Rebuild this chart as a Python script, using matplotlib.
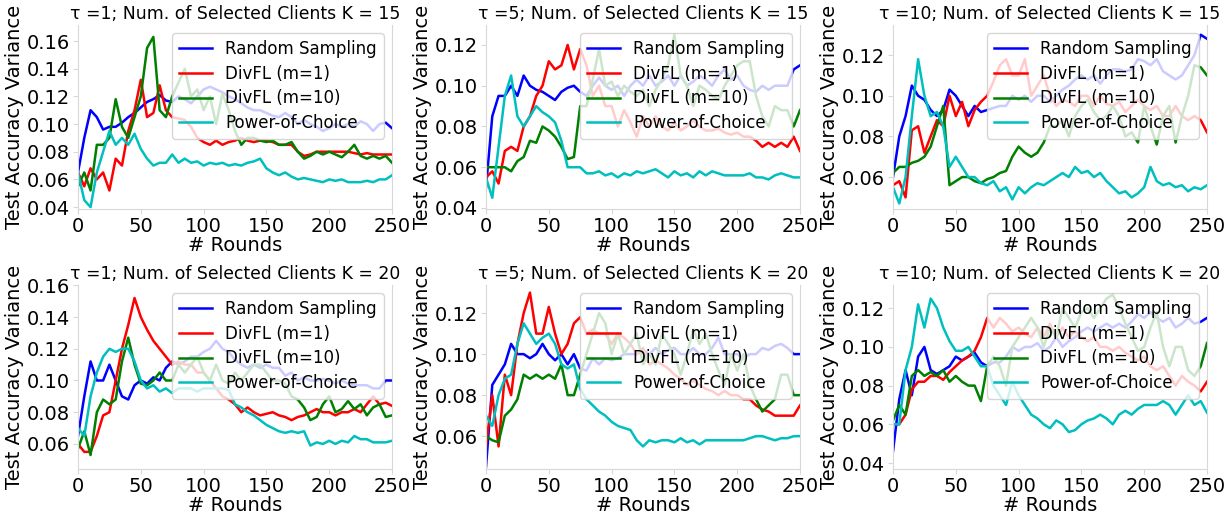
import matplotlib
matplotlib.use("Agg")
import matplotlib.pyplot as plt

ROUNDS = list(range(0, 251, 5))

LABELS = ["Random Sampling", "DivFL (m=1)", "DivFL (m=10)", "Power-of-Choice"]
COLORS = ["b", "r", "g", "c"]

TITLES = [
    "τ =1; Num. of Selected Clients K = 15",
    "τ =5; Num. of Selected Clients K = 15",
    "τ =10; Num. of Selected Clients K = 15",
    "τ =1; Num. of Selected Clients K = 20",
    "τ =5; Num. of Selected Clients K = 20",
    "τ =10; Num. of Selected Clients K = 20",
]

# ---------------- tau = 1, K = 15 ----------------
rs_t1_k15 = [0.065, 0.090, 0.110, 0.105, 0.096, 0.098, 0.098, 0.101, 0.105, 0.108,
             0.112, 0.116, 0.118, 0.121, 0.117, 0.116, 0.120, 0.118, 0.115, 0.120,
             0.125, 0.127, 0.125, 0.123, 0.120, 0.118, 0.115, 0.112, 0.110, 0.110,
             0.108, 0.106, 0.105, 0.108, 0.105, 0.100, 0.103, 0.100, 0.098, 0.095,
             0.097, 0.100, 0.098, 0.100, 0.098, 0.102, 0.100, 0.095, 0.100, 0.101,
             0.097]
d1_t1_k15 = [0.065, 0.055, 0.068, 0.060, 0.065, 0.052, 0.075, 0.070, 0.095, 0.110,
             0.132, 0.105, 0.108, 0.128, 0.110, 0.105, 0.104, 0.103, 0.098, 0.090,
             0.087, 0.085, 0.088, 0.085, 0.087, 0.088, 0.090, 0.088, 0.087, 0.088,
             0.088, 0.087, 0.085, 0.085, 0.085, 0.080, 0.077, 0.078, 0.080, 0.080,
             0.080, 0.080, 0.080, 0.080, 0.079, 0.078, 0.079, 0.078, 0.078, 0.078,
             0.078]
d10_t1_k15 = [0.055, 0.065, 0.052, 0.085, 0.085, 0.090, 0.118, 0.098, 0.090, 0.105,
              0.120, 0.155, 0.163, 0.110, 0.105, 0.120, 0.130, 0.140, 0.120, 0.125,
              0.110, 0.120, 0.100, 0.122, 0.110, 0.095, 0.085, 0.090, 0.090, 0.088,
              0.087, 0.088, 0.085, 0.085, 0.087, 0.080, 0.075, 0.077, 0.080, 0.078,
              0.080, 0.078, 0.076, 0.080, 0.085, 0.077, 0.075, 0.077, 0.075, 0.077,
              0.072]
poc_t1_k15 = [0.065, 0.045, 0.040, 0.065, 0.080, 0.095, 0.085, 0.090, 0.085, 0.093,
              0.082, 0.075, 0.070, 0.072, 0.072, 0.078, 0.072, 0.075, 0.072, 0.073,
              0.070, 0.072, 0.071, 0.072, 0.070, 0.071, 0.070, 0.072, 0.073, 0.075,
              0.068, 0.065, 0.063, 0.065, 0.062, 0.060, 0.061, 0.060, 0.059, 0.058,
              0.060, 0.059, 0.060, 0.058, 0.058, 0.058, 0.059, 0.058, 0.060, 0.060,
              0.063]

# ---------------- tau = 5, K = 15 ----------------
rs_t5_k15 = [0.050, 0.085, 0.095, 0.095, 0.100, 0.095, 0.105, 0.100, 0.098, 0.097,
             0.095, 0.093, 0.097, 0.099, 0.100, 0.097, 0.095, 0.100, 0.104, 0.100,
             0.098, 0.100, 0.095, 0.100, 0.103, 0.100, 0.105, 0.100, 0.102, 0.105,
             0.100, 0.105, 0.100, 0.102, 0.105, 0.103, 0.100, 0.105, 0.108, 0.103,
             0.105, 0.100, 0.098, 0.097, 0.100, 0.098, 0.100, 0.100, 0.100, 0.108,
             0.110]
d1_t5_k15 = [0.055, 0.058, 0.052, 0.068, 0.070, 0.068, 0.080, 0.085, 0.095, 0.100,
             0.112, 0.108, 0.110, 0.120, 0.108, 0.118, 0.110, 0.095, 0.100, 0.090,
             0.090, 0.080, 0.088, 0.082, 0.075, 0.085, 0.080, 0.085, 0.080, 0.078,
             0.082, 0.078, 0.080, 0.083, 0.080, 0.078, 0.078, 0.079, 0.077, 0.076,
             0.077, 0.075, 0.075, 0.073, 0.070, 0.072, 0.070, 0.072, 0.070, 0.075,
             0.068]
d10_t5_k15 = [0.060, 0.060, 0.060, 0.060, 0.058, 0.063, 0.065, 0.073, 0.072, 0.080,
              0.078, 0.075, 0.070, 0.064, 0.065, 0.090, 0.090, 0.103, 0.118, 0.100,
              0.102, 0.095, 0.100, 0.097, 0.095, 0.098, 0.090, 0.098, 0.103, 0.110,
              0.125, 0.105, 0.100, 0.090, 0.100, 0.098, 0.095, 0.093, 0.100, 0.105,
              0.110, 0.112, 0.112, 0.095, 0.085, 0.080, 0.090, 0.088, 0.088, 0.080,
              0.088]
poc_t5_k15 = [0.055, 0.045, 0.070, 0.095, 0.105, 0.085, 0.080, 0.085, 0.090, 0.087,
              0.085, 0.082, 0.073, 0.060, 0.060, 0.060, 0.057, 0.057, 0.058, 0.056,
              0.057, 0.055, 0.057, 0.056, 0.058, 0.057, 0.058, 0.059, 0.057, 0.055,
              0.058, 0.056, 0.057, 0.055, 0.058, 0.056, 0.058, 0.057, 0.056, 0.056,
              0.056, 0.056, 0.057, 0.055, 0.055, 0.054, 0.056, 0.057, 0.056, 0.055,
              0.055]

# ---------------- tau = 10, K = 15 ----------------
rs_t10_k15 = [0.060, 0.080, 0.090, 0.105, 0.100, 0.098, 0.093, 0.090, 0.093, 0.103,
              0.100, 0.095, 0.090, 0.095, 0.092, 0.093, 0.094, 0.095, 0.095, 0.100,
              0.098, 0.100, 0.097, 0.100, 0.100, 0.097, 0.100, 0.103, 0.105, 0.108,
              0.110, 0.108, 0.110, 0.106, 0.110, 0.113, 0.113, 0.112, 0.113, 0.118,
              0.117, 0.115, 0.118, 0.112, 0.110, 0.108, 0.110, 0.115, 0.120, 0.130,
              0.128]
d1_t10_k15 = [0.056, 0.058, 0.050, 0.083, 0.085, 0.072, 0.080, 0.088, 0.085, 0.100,
              0.090, 0.097, 0.085, 0.093, 0.097, 0.100, 0.107, 0.115, 0.118, 0.110,
              0.110, 0.118, 0.100, 0.105, 0.110, 0.100, 0.095, 0.098, 0.097, 0.095,
              0.100, 0.100, 0.095, 0.100, 0.096, 0.095, 0.097, 0.092, 0.095, 0.098,
              0.095, 0.093, 0.095, 0.090, 0.090, 0.095, 0.090, 0.088, 0.090, 0.088,
              0.082]
d10_t10_k15 = [0.062, 0.065, 0.065, 0.067, 0.068, 0.070, 0.075, 0.085, 0.095, 0.056,
               0.058, 0.060, 0.060, 0.058, 0.057, 0.059, 0.060, 0.062, 0.063, 0.070,
               0.075, 0.072, 0.070, 0.072, 0.077, 0.085, 0.085, 0.088, 0.080, 0.090,
               0.095, 0.098, 0.092, 0.088, 0.090, 0.095, 0.090, 0.080, 0.082, 0.077,
               0.095, 0.085, 0.076, 0.090, 0.095, 0.077, 0.090, 0.100, 0.115, 0.114,
               0.110]
poc_t10_k15 = [0.055, 0.047, 0.060, 0.090, 0.118, 0.100, 0.090, 0.092, 0.085, 0.065,
               0.070, 0.065, 0.060, 0.060, 0.057, 0.056, 0.058, 0.053, 0.055, 0.049,
               0.055, 0.052, 0.055, 0.057, 0.056, 0.058, 0.060, 0.062, 0.060, 0.065,
               0.062, 0.063, 0.060, 0.062, 0.058, 0.055, 0.052, 0.053, 0.050, 0.052,
               0.055, 0.065, 0.058, 0.056, 0.057, 0.055, 0.056, 0.053, 0.055, 0.054,
               0.056]

# ---------------- tau = 1, K = 20 ----------------
rs_t1_k20 = [0.065, 0.090, 0.112, 0.100, 0.100, 0.110, 0.100, 0.090, 0.088, 0.097,
             0.100, 0.098, 0.102, 0.100, 0.108, 0.112, 0.110, 0.112, 0.115, 0.115,
             0.118, 0.120, 0.125, 0.120, 0.118, 0.113, 0.110, 0.108, 0.110, 0.108,
             0.110, 0.108, 0.108, 0.103, 0.105, 0.100, 0.102, 0.100, 0.100, 0.101,
             0.100, 0.098, 0.100, 0.098, 0.097, 0.097, 0.097, 0.095, 0.095, 0.100,
             0.100]
d1_t1_k20 = [0.060, 0.055, 0.055, 0.065, 0.078, 0.080, 0.100, 0.120, 0.135, 0.152,
             0.140, 0.132, 0.125, 0.120, 0.115, 0.110, 0.112, 0.110, 0.110, 0.105,
             0.105, 0.100, 0.095, 0.090, 0.088, 0.085, 0.080, 0.083, 0.080, 0.078,
             0.079, 0.080, 0.078, 0.077, 0.075, 0.077, 0.078, 0.080, 0.082, 0.080,
             0.080, 0.078, 0.080, 0.080, 0.082, 0.080, 0.085, 0.090, 0.085, 0.086,
             0.084]
d10_t1_k20 = [0.057, 0.068, 0.053, 0.080, 0.088, 0.085, 0.088, 0.112, 0.127, 0.110,
              0.098, 0.097, 0.100, 0.105, 0.100, 0.100, 0.110, 0.105, 0.110, 0.115,
              0.105, 0.100, 0.110, 0.100, 0.098, 0.105, 0.100, 0.105, 0.110, 0.110,
              0.105, 0.100, 0.100, 0.098, 0.090, 0.088, 0.083, 0.075, 0.077, 0.085,
              0.090, 0.080, 0.082, 0.087, 0.082, 0.085, 0.078, 0.083, 0.085, 0.077,
              0.078]
poc_t1_k20 = [0.070, 0.065, 0.090, 0.105, 0.115, 0.120, 0.118, 0.120, 0.120, 0.112,
              0.100, 0.095, 0.097, 0.093, 0.095, 0.092, 0.095, 0.095, 0.095, 0.093,
              0.095, 0.095, 0.095, 0.095, 0.094, 0.085, 0.083, 0.080, 0.078, 0.075,
              0.072, 0.070, 0.068, 0.067, 0.068, 0.067, 0.068, 0.059, 0.061, 0.060,
              0.062, 0.060, 0.062, 0.061, 0.065, 0.063, 0.063, 0.061, 0.061, 0.061,
              0.062]

# ---------------- tau = 5, K = 20 ----------------
rs_t5_k20 = [0.045, 0.085, 0.090, 0.095, 0.105, 0.100, 0.100, 0.098, 0.100, 0.105,
             0.100, 0.097, 0.100, 0.095, 0.100, 0.093, 0.092, 0.098, 0.095, 0.098,
             0.097, 0.098, 0.100, 0.100, 0.100, 0.102, 0.100, 0.103, 0.100, 0.102,
             0.103, 0.100, 0.100, 0.103, 0.100, 0.100, 0.103, 0.108, 0.100, 0.100,
             0.100, 0.098, 0.100, 0.100, 0.103, 0.102, 0.104, 0.105, 0.103, 0.100,
             0.100]
d1_t5_k20 = [0.055, 0.080, 0.055, 0.090, 0.080, 0.105, 0.120, 0.130, 0.110, 0.110,
             0.123, 0.110, 0.100, 0.105, 0.115, 0.118, 0.110, 0.112, 0.110, 0.110,
             0.105, 0.110, 0.108, 0.105, 0.100, 0.103, 0.095, 0.097, 0.095, 0.093,
             0.090, 0.088, 0.085, 0.087, 0.085, 0.083, 0.082, 0.080, 0.082, 0.080,
             0.080, 0.078, 0.078, 0.075, 0.073, 0.072, 0.070, 0.070, 0.070, 0.070,
             0.075]
d10_t5_k20 = [0.060, 0.058, 0.057, 0.070, 0.073, 0.078, 0.090, 0.088, 0.090, 0.088,
              0.090, 0.088, 0.095, 0.080, 0.080, 0.090, 0.100, 0.110, 0.120, 0.115,
              0.100, 0.110, 0.100, 0.105, 0.110, 0.095, 0.100, 0.095, 0.110, 0.105,
              0.100, 0.090, 0.100, 0.112, 0.105, 0.110, 0.100, 0.092, 0.085, 0.100,
              0.092, 0.100, 0.085, 0.078, 0.072, 0.075, 0.078, 0.090, 0.090, 0.080,
              0.080]
poc_t5_k20 = [0.070, 0.065, 0.080, 0.088, 0.090, 0.105, 0.115, 0.110, 0.105, 0.108,
              0.110, 0.105, 0.095, 0.093, 0.095, 0.083, 0.078, 0.075, 0.072, 0.070,
              0.067, 0.065, 0.064, 0.063, 0.058, 0.055, 0.058, 0.057, 0.058, 0.058,
              0.057, 0.059, 0.057, 0.058, 0.056, 0.058, 0.058, 0.058, 0.058, 0.058,
              0.058, 0.058, 0.059, 0.060, 0.060, 0.059, 0.058, 0.059, 0.059, 0.060,
              0.060]

# ---------------- tau = 10, K = 20 ----------------
rs_t10_k20 = [0.046, 0.073, 0.088, 0.075, 0.095, 0.100, 0.088, 0.086, 0.088, 0.090,
              0.095, 0.093, 0.095, 0.097, 0.092, 0.090, 0.092, 0.092, 0.095, 0.100,
              0.098, 0.100, 0.100, 0.102, 0.098, 0.100, 0.105, 0.100, 0.103, 0.105,
              0.108, 0.110, 0.108, 0.110, 0.112, 0.110, 0.112, 0.110, 0.113, 0.117,
              0.115, 0.118, 0.115, 0.113, 0.115, 0.110, 0.112, 0.115, 0.112, 0.113,
              0.115]
d1_t10_k20 = [0.060, 0.060, 0.065, 0.078, 0.082, 0.082, 0.085, 0.085, 0.083, 0.087,
              0.090, 0.093, 0.095, 0.098, 0.105, 0.115, 0.110, 0.115, 0.112, 0.108,
              0.110, 0.107, 0.105, 0.110, 0.105, 0.112, 0.105, 0.110, 0.105, 0.108,
              0.105, 0.103, 0.105, 0.100, 0.100, 0.098, 0.100, 0.097, 0.095, 0.093,
              0.095, 0.090, 0.088, 0.090, 0.085, 0.080, 0.085, 0.082, 0.080, 0.077,
              0.082]
d10_t10_k20 = [0.062, 0.070, 0.065, 0.085, 0.088, 0.085, 0.087, 0.085, 0.088, 0.082,
               0.085, 0.082, 0.080, 0.080, 0.072, 0.090, 0.095, 0.090, 0.080, 0.100,
               0.105, 0.110, 0.115, 0.110, 0.100, 0.110, 0.105, 0.120, 0.115, 0.110,
               0.118, 0.120, 0.115, 0.120, 0.125, 0.127, 0.120, 0.112, 0.105, 0.098,
               0.100, 0.110, 0.118, 0.100, 0.090, 0.100, 0.100, 0.088, 0.085, 0.090,
               0.102]
poc_t10_k20 = [0.060, 0.060, 0.088, 0.100, 0.122, 0.110, 0.125, 0.120, 0.110, 0.103,
               0.098, 0.098, 0.100, 0.095, 0.090, 0.090, 0.080, 0.075, 0.070, 0.082,
               0.075, 0.070, 0.065, 0.063, 0.060, 0.058, 0.062, 0.060, 0.056, 0.057,
               0.060, 0.062, 0.063, 0.065, 0.063, 0.060, 0.065, 0.067, 0.065, 0.068,
               0.070, 0.070, 0.070, 0.072, 0.070, 0.065, 0.070, 0.075, 0.070, 0.072,
               0.066]

PANELS = [
    [rs_t1_k15, d1_t1_k15, d10_t1_k15, poc_t1_k15],
    [rs_t5_k15, d1_t5_k15, d10_t5_k15, poc_t5_k15],
    [rs_t10_k15, d1_t10_k15, d10_t10_k15, poc_t10_k15],
    [rs_t1_k20, d1_t1_k20, d10_t1_k20, poc_t1_k20],
    [rs_t5_k20, d1_t5_k20, d10_t5_k20, poc_t5_k20],
    [rs_t10_k20, d1_t10_k20, d10_t10_k20, poc_t10_k20],
]

YLIMS = [(0.0386, 0.1716), (0.0395, 0.1298), (0.0443, 0.1348),
         (0.0442, 0.1602), (0.0440, 0.1337), (0.0369, 0.1320)]
YTICKS = [[0.04, 0.06, 0.08, 0.10, 0.12, 0.14, 0.16],
          [0.04, 0.06, 0.08, 0.10, 0.12],
          [0.06, 0.08, 0.10, 0.12],
          [0.06, 0.08, 0.10, 0.12, 0.14, 0.16],
          [0.06, 0.08, 0.10, 0.12],
          [0.04, 0.06, 0.08, 0.10, 0.12]]
XTICKS = [0, 50, 100, 150, 200, 250]

W, H = 1232, 516
fig = plt.figure(figsize=(W / 100, H / 100), dpi=100)
lefts = [78, 486, 893]
tops = [25, 285]
aw, ah = 314, 184
spine_col = "#d8d8d8"

for i, series in enumerate(PANELS):
    r, c = divmod(i, 3)
    ax = fig.add_axes([lefts[c] / W, 1 - (tops[r] + ah) / H, aw / W, ah / H])
    for vals, lab, col in zip(series, LABELS, COLORS):
        ax.plot(ROUNDS, vals, color=col, lw=1.8, label=lab)
    ax.set_xlim(0, 250)
    ax.set_ylim(*YLIMS[i])
    ax.set_xticks(XTICKS)
    ax.set_yticks(YTICKS[i])
    ax.set_yticklabels([f"{v:.2f}" for v in YTICKS[i]])
    ax.tick_params(labelsize=14, color=spine_col, length=3.5, pad=2.5)
    for s in ["left", "right", "bottom"]:
        ax.spines[s].set_color(spine_col)
    ax.spines["top"].set_visible(False)
    ax.set_xlabel("# Rounds", fontsize=14, labelpad=0)
    ax.set_ylabel("Test Accuracy Variance", fontsize=14, labelpad=2)
    ax.set_title(TITLES[i], fontsize=12.4, pad=4)
    ax.legend(loc="upper right", fontsize=12, framealpha=0.8,
              edgecolor="#cccccc", fancybox=True, labelspacing=0.4)

fig.savefig("out.png", dpi=100)
